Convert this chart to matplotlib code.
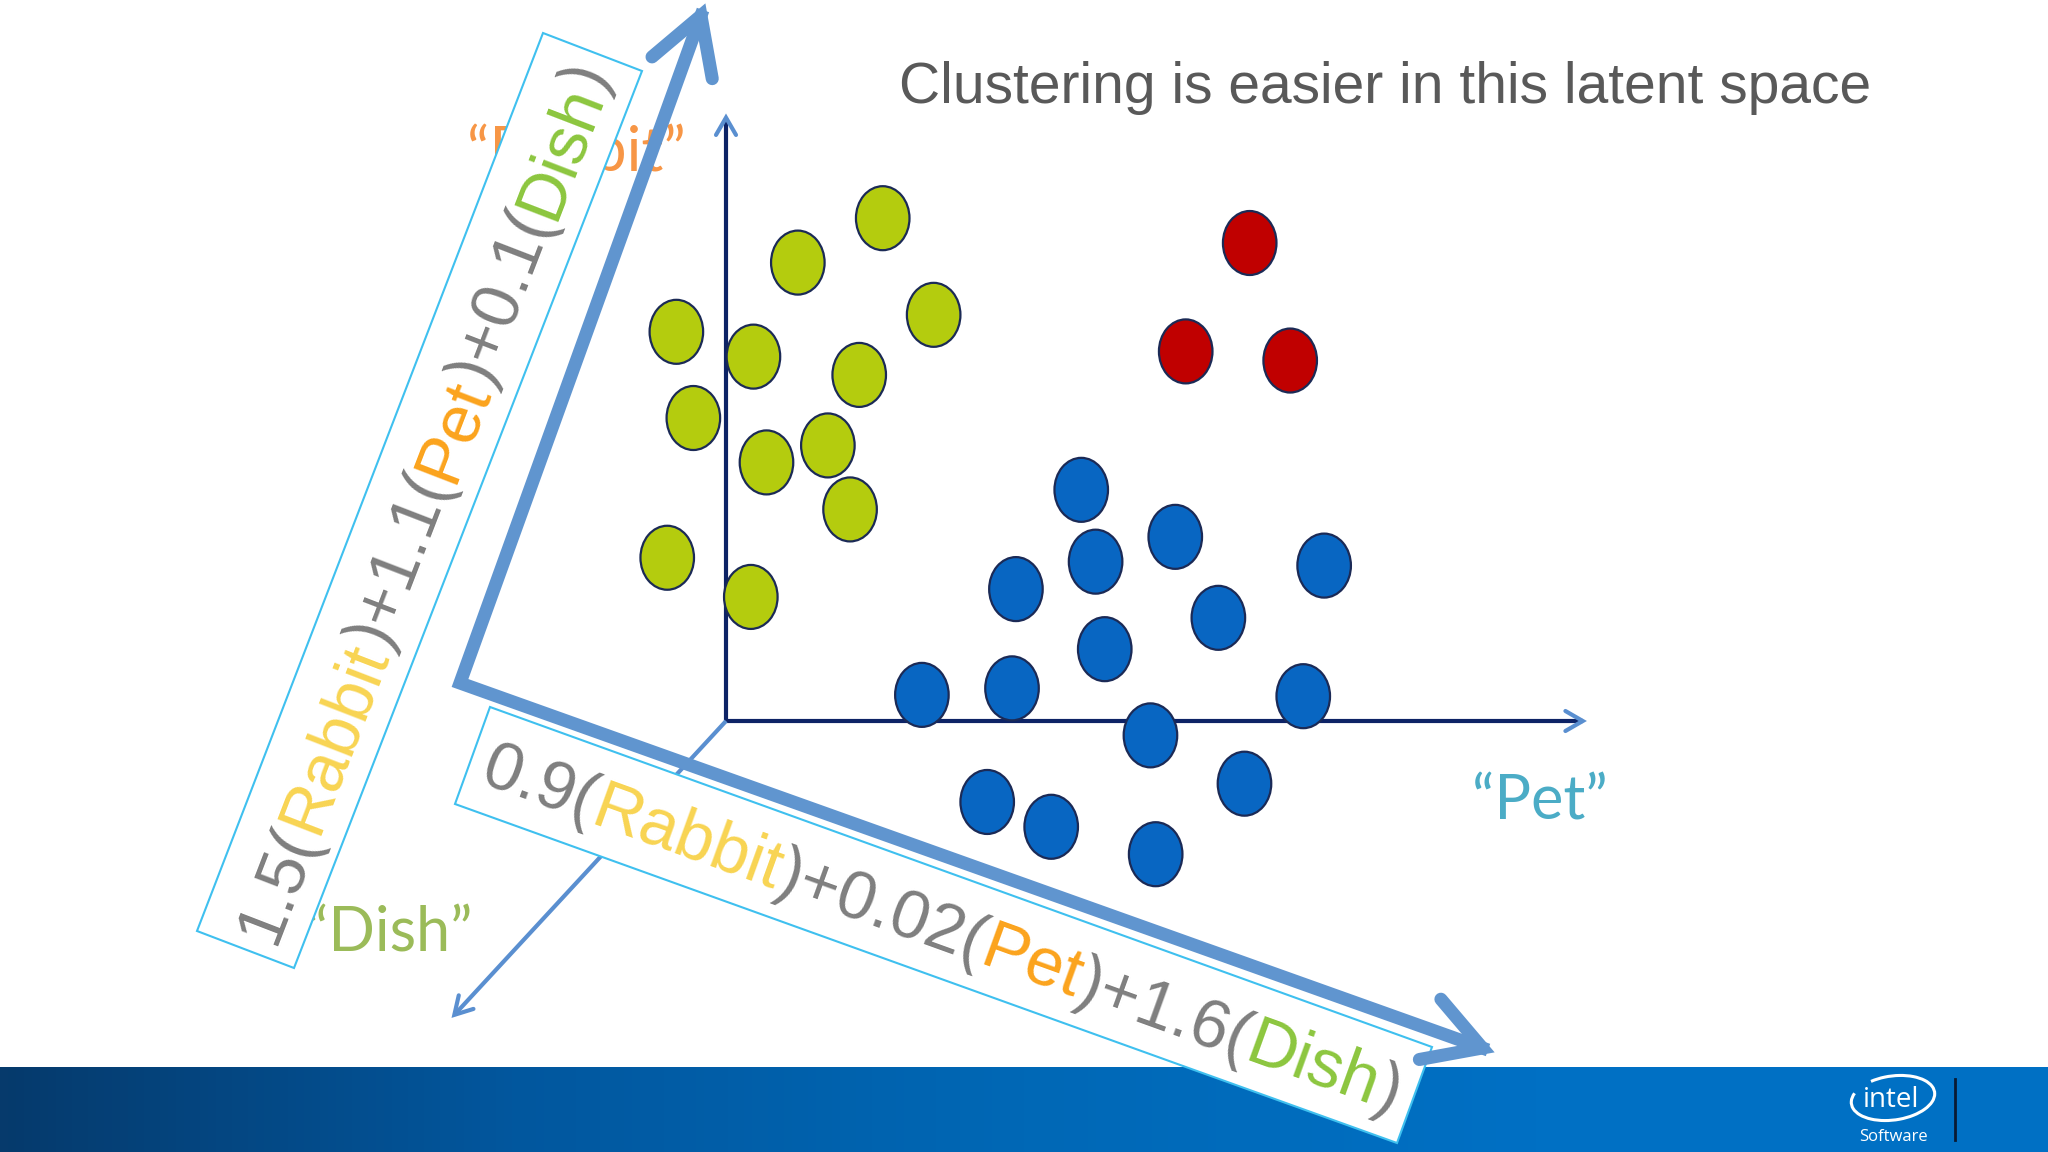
import numpy as np
import matplotlib.pyplot as plt
from matplotlib.patches import Ellipse, Polygon, Arc
from matplotlib.transforms import Affine2D
from matplotlib.colors import LinearSegmentedColormap

# ---- data (latent space units, origin at the axes corner) ----
green_x = [12.0, 5.5, 15.9, -3.8, 2.1, 10.2, -2.5, 7.8, 3.1, 9.5, -4.5, 1.9]
green_y = [38.5, 35.1, 31.1, 29.8, 27.9, 26.5, 23.2, 21.1, 19.8, 16.2, 12.5, 9.5]
red_x = [40.1, 35.2, 43.2]
red_y = [36.6, 28.3, 27.6]
blue_x = [27.2, 34.4, 28.3, 45.8, 22.2, 37.7, 29.0, 15.0, 21.9, 44.2, 32.5, 39.7, 20.0, 24.9, 32.9]
blue_y = [17.7, 14.1, 12.2, 11.9, 10.1, 7.9, 5.5, 2.0, 2.5, 1.9, -1.1, -4.8, -6.2, -8.1, -10.2]

title = "Clustering is easier in this latent space"
axis_names = ["\u201cRabbit\u201d", "\u201cPet\u201d", "\u201cDish\u201d"]
eq_left = ["1.5(", "Rabbit", ")+1.1(", "Pet", ")+0.1(", "Dish", ")"]
eq_bottom = ["0.9(", "Rabbit", ")+0.02(", "Pet", ")+1.6(", "Dish", ")"]

GRAY = "#7f7f7f"
word_color = {"Rabbit": "#f8d452", "Pet": "#fba31c", "Dish": "#8cc63e"}
ARROW = "#6095cf"
NAVY = "#0d2366"
SANS = ["Liberation Sans", "DejaVu Sans"]

fig = plt.figure(figsize=(20.48, 11.52), dpi=100)
ax = fig.add_axes([0, 0, 1, 1])
ax.set_xlim(0, 2048)
ax.set_ylim(1152, 0)
ax.axis("off")

# latent units -> pixels
S, OX, OY = 13.06, 726, 721
lat_px = Affine2D().scale(S, -S).translate(OX, OY)
lat = lat_px + ax.transData


def chevron(tip, d, arm, ang, color, lw, z):
    d = np.asarray(d, float) / np.hypot(*d)
    back = -d
    pts = []
    for a in (ang, -ang):
        c, s = np.cos(np.radians(a)), np.sin(np.radians(a))
        v = np.array([c * back[0] - s * back[1], s * back[0] + c * back[1]])
        pts.append(np.asarray(tip) + v * arm)
    xs = [pts[0][0], tip[0], pts[1][0]]
    ys = [pts[0][1], tip[1], pts[1][1]]
    ax.plot(xs, ys, color=color, lw=lw, solid_capstyle="round",
            solid_joinstyle="miter", zorder=z)


# ---- bottom band ----
band = LinearSegmentedColormap.from_list("band", ["#063a6c", "#02579e", "#0068b6", "#0070c4", "#0070c4"])
ax.imshow(np.linspace(0, 1, 256)[None, :], cmap=band, extent=(0, 2048, 1152, 1067),
          aspect="auto", zorder=1)

# ---- title ----
ax.text(899, 88, title, fontsize=41, color="#595959", family=SANS, ha="left", va="center", zorder=9)

# ---- axis names ----
name_pos = [(576, 171, "#f79646"), (1540, 820, "#4bacc6"), (389, 951, "#9bbb59")]
for name, (x, y, c) in zip(axis_names, name_pos):
    ax.text(x, y, name, fontsize=44, color=c, family=["Lato", "DejaVu Sans"],
            ha="center", va="baseline", zorder=2)

# ---- original axes ----
ends = [(65.6, 0), (0, 46.2), (-20.8, -22.5)]
o_px = lat_px.transform((0, 0))
for i, e in enumerate(ends):
    col = NAVY if i < 2 else "#5a8fd0"
    ax.plot([0, e[0]], [0, e[1]], color=col, lw=3.0, transform=lat, zorder=3,
            solid_capstyle="butt")
    tip = lat_px.transform(e)
    chevron(tip, tip - o_px, 20, 30, "#5a8fd0", 3.0, 3.1)

# ---- clusters ----
for xs, ys, fc in [(green_x, green_y, "#b4cc0e"), (red_x, red_y, "#c00000"),
                   (blue_x, blue_y, "#0866c2")]:
    for x, y in zip(xs, ys):
        ax.add_patch(Ellipse((x, y), 4.1, 4.9, facecolor=fc, edgecolor="#1b2a56",
                             lw=1.6, transform=lat, zorder=4))

# ---- rotated boxes with equations ----
box_left = [(543, 33), (642, 71), (294, 968), (197, 931)]
box_bottom = [(490, 707), (1432, 1047), (1397, 1143), (455, 804)]
for b in (box_left, box_bottom):
    ax.add_patch(Polygon(b, closed=True, facecolor="white", edgecolor="#3fc0ef",
                         lw=1.5, zorder=5))

renderer = fig.canvas.get_renderer()


def rich_text(parts, center, angle, size):
    offs = []
    for i in range(len(parts)):
        t = ax.text(0, 0, "".join(parts[:i]) or "", fontsize=size, family=SANS)
        offs.append(t.get_window_extent(renderer).width if i else 0.0)
        t.remove()
    t = ax.text(0, 0, "".join(parts), fontsize=size, family=SANS)
    total = t.get_window_extent(renderer).width
    t.remove()
    th = np.radians(angle)
    d = np.array([np.cos(th), -np.sin(th)])
    up = np.array([-np.sin(th), -np.cos(th)])
    em = size * 100 / 72
    start = np.asarray(center) - d * total / 2 - up * 0.36 * em
    for p, o in zip(parts, offs):
        pos = start + d * o
        ax.text(pos[0], pos[1], p, fontsize=size, family=SANS,
                color=word_color.get(p, GRAY), rotation=angle,
                rotation_mode="anchor", ha="left", va="baseline", zorder=6)


rich_text(eq_left, np.mean(box_left, axis=0), 68.9, 49)
rich_text(eq_bottom, np.mean(box_bottom, axis=0), -19.85, 49)

# ---- new latent axes (thick arrows) ----
corner = np.array([460, 683])
up_tip = np.array([703, 10])
right_tip = np.array([1488, 1050])
ax.plot([up_tip[0], corner[0], right_tip[0]], [up_tip[1], corner[1], right_tip[1]],
        color=ARROW, lw=9.4, solid_joinstyle="miter", solid_capstyle="butt", zorder=7)
for tip in (up_tip, right_tip):
    d = tip - corner
    chevron(tip - 6 * d / np.hypot(*d), d, 64, 30, ARROW, 9.4, 7)

# ---- logo ----
ax.text(1891, 1100, "intel", fontsize=20, color="white", family=["Open Sans", "DejaVu Sans"],
        ha="center", va="center", zorder=8)
ax.add_patch(Arc((1893, 1098), 84, 44, angle=-8, theta1=225, theta2=195,
                 color="white", lw=2.2, zorder=8))
ax.text(1893, 1137, "Software", fontsize=12, color="white", family=["Open Sans", "DejaVu Sans"],
        ha="center", va="center", zorder=8)
ax.plot([1955, 1955], [1079, 1140], color="#0a1a33", lw=2, zorder=8)

fig.savefig("out.png", dpi=100)
